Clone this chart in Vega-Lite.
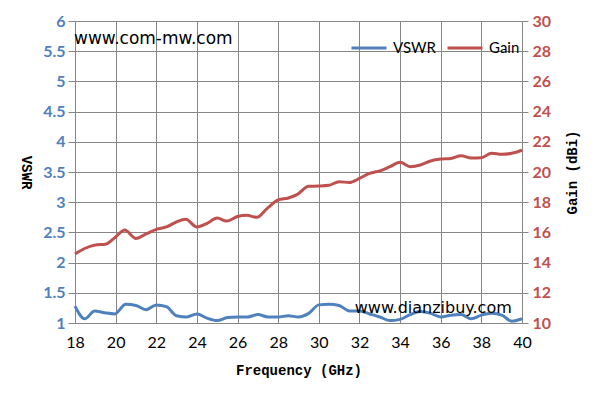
{
  "$schema": "https://vega.github.io/schema/vega-lite/v6.json",
  "description": "VSWR and Gain vs Frequency",
  "width": 447,
  "height": 302,
  "autosize": "none",
  "padding": {"left": 75, "top": 21, "right": 73, "bottom": 81},
  "background": "white",
  "config": {
    "view": {"stroke": null},
    "axis": {"domain": false, "gridColor": "#868686", "gridOpacity": 1, "tickColor": "#868686", "labelOverlap": false, "labelFlush": false, "titleFont": "Liberation Mono", "titleFontSize": 14, "titleFontWeight": "bold", "titleColor": "black"}
  },
  "datasets": {
    "vswr": [
      {"freq": 18, "vswr": 1.28}, {"freq": 18.48, "vswr": 1.07}, {"freq": 18.97, "vswr": 1.2}, {"freq": 19.46, "vswr": 1.17},
      {"freq": 19.95, "vswr": 1.15}, {"freq": 20.5, "vswr": 1.31}, {"freq": 21, "vswr": 1.29}, {"freq": 21.5, "vswr": 1.22},
      {"freq": 22, "vswr": 1.3}, {"freq": 22.5, "vswr": 1.27}, {"freq": 23, "vswr": 1.12}, {"freq": 23.5, "vswr": 1.1},
      {"freq": 24, "vswr": 1.15}, {"freq": 24.5, "vswr": 1.08}, {"freq": 25, "vswr": 1.04}, {"freq": 25.5, "vswr": 1.09},
      {"freq": 26, "vswr": 1.1}, {"freq": 26.5, "vswr": 1.1}, {"freq": 27, "vswr": 1.14}, {"freq": 27.5, "vswr": 1.1},
      {"freq": 28, "vswr": 1.1}, {"freq": 28.5, "vswr": 1.12}, {"freq": 29, "vswr": 1.1}, {"freq": 29.5, "vswr": 1.16},
      {"freq": 30, "vswr": 1.3}, {"freq": 30.5, "vswr": 1.31}, {"freq": 31, "vswr": 1.29}, {"freq": 31.5, "vswr": 1.2},
      {"freq": 32, "vswr": 1.2}, {"freq": 32.5, "vswr": 1.15}, {"freq": 33, "vswr": 1.1}, {"freq": 33.5, "vswr": 1.04},
      {"freq": 34, "vswr": 1.06}, {"freq": 34.5, "vswr": 1.14}, {"freq": 35, "vswr": 1.19}, {"freq": 35.5, "vswr": 1.16},
      {"freq": 36, "vswr": 1.1}, {"freq": 36.5, "vswr": 1.13}, {"freq": 37, "vswr": 1.14}, {"freq": 37.5, "vswr": 1.07},
      {"freq": 38, "vswr": 1.13}, {"freq": 38.5, "vswr": 1.16}, {"freq": 39, "vswr": 1.13}, {"freq": 39.5, "vswr": 1.03},
      {"freq": 40, "vswr": 1.07}
    ],
    "gain": [
      {"freq": 18, "gain": 14.57}, {"freq": 18.5, "gain": 14.95}, {"freq": 19, "gain": 15.17}, {"freq": 19.5, "gain": 15.22},
      {"freq": 20, "gain": 15.7}, {"freq": 20.45, "gain": 16.16}, {"freq": 21, "gain": 15.6}, {"freq": 21.5, "gain": 15.9},
      {"freq": 22, "gain": 16.2}, {"freq": 22.5, "gain": 16.36}, {"freq": 23, "gain": 16.7}, {"freq": 23.45, "gain": 16.87},
      {"freq": 24, "gain": 16.36}, {"freq": 24.5, "gain": 16.6}, {"freq": 25, "gain": 16.95}, {"freq": 25.45, "gain": 16.75},
      {"freq": 26, "gain": 17.05}, {"freq": 26.45, "gain": 17.13}, {"freq": 26.95, "gain": 17.0}, {"freq": 27.45, "gain": 17.57},
      {"freq": 28, "gain": 18.15}, {"freq": 28.5, "gain": 18.28}, {"freq": 28.95, "gain": 18.52}, {"freq": 29.5, "gain": 19.05},
      {"freq": 30, "gain": 19.07}, {"freq": 30.5, "gain": 19.12}, {"freq": 31, "gain": 19.36}, {"freq": 31.5, "gain": 19.3},
      {"freq": 32, "gain": 19.58}, {"freq": 32.5, "gain": 19.91}, {"freq": 33, "gain": 20.07}, {"freq": 33.5, "gain": 20.35},
      {"freq": 34, "gain": 20.64}, {"freq": 34.5, "gain": 20.35}, {"freq": 35, "gain": 20.46}, {"freq": 35.5, "gain": 20.73},
      {"freq": 36, "gain": 20.86}, {"freq": 36.5, "gain": 20.9}, {"freq": 37, "gain": 21.08}, {"freq": 37.5, "gain": 20.93},
      {"freq": 38, "gain": 20.95}, {"freq": 38.5, "gain": 21.24}, {"freq": 39, "gain": 21.17}, {"freq": 39.5, "gain": 21.24},
      {"freq": 40, "gain": 21.44}
    ]
  },
  "encoding": {
    "x": {
      "field": "freq",
      "type": "quantitative",
      "scale": {"domain": [18, 40], "nice": false, "zero": false},
      "axis": {
        "values": [18, 20, 22, 24, 26, 28, 30, 32, 34, 36, 38, 40],
        "grid": true,
        "ticks": false,
        "labelFont": "Lato",
        "labelFontSize": 16,
        "labelColor": "black",
        "labelPadding": 11,
        "title": "Frequency (GHz)",
        "titleX": 223.5,
        "titleY": 47,
        "titleAlign": "center",
        "titleBaseline": "middle"
      }
    }
  },
  "layer": [
    {
      "encoding": {
        "y": {
          "field": "vswr",
          "type": "quantitative",
          "scale": {"domain": [1, 6], "nice": false, "zero": false},
          "axis": {
            "orient": "left",
            "values": [1, 1.5, 2, 2.5, 3, 3.5, 4, 4.5, 5, 5.5, 6],
            "format": "~g",
            "grid": true,
            "tickSize": 7,
            "labelFont": "Lato",
            "labelFontSize": 16,
            "labelFontWeight": "bold",
            "labelColor": "#4F81BD",
            "labelPadding": 3,
            "title": "VSWR",
            "titleAngle": 90,
            "titleX": -50,
            "titleY": 151,
            "titleAlign": "center",
            "titleBaseline": "middle"
          }
        }
      },
      "layer": [
        {
          "data": {"name": "vswr"},
          "mark": {"type": "line", "interpolate": "monotone", "strokeWidth": 3},
          "encoding": {
            "color": {
              "datum": "VSWR",
              "type": "nominal",
              "scale": {"domain": ["VSWR", "Gain"], "range": ["#4F81BD", "#C0504D"]},
              "legend": {
                "orient": "none",
                "legendX": 275,
                "legendY": 8,
                "direction": "horizontal",
                "title": null,
                "symbolType": "stroke",
                "symbolSize": 1225,
                "symbolStrokeWidth": 3,
                "labelFont": "Lato",
                "labelFontSize": 15,
                "labelColor": "black",
                "labelOffset": 5,
                "columnPadding": 5,
                "padding": 0
              }
            }
          }
        },
        {
          "data": {"values": [{"freq": 17.95, "vswr": 5.62, "label": "www.com-mw.com"}]},
          "mark": {"type": "text", "font": "DejaVu Sans", "fontSize": 17, "align": "left", "baseline": "alphabetic", "color": "black"},
          "encoding": {"text": {"field": "label"}}
        },
        {
          "data": {"values": [{"freq": 31.77, "vswr": 1.16, "label": "www.dianzibuy.com"}]},
          "mark": {"type": "text", "font": "DejaVu Sans", "fontSize": 16, "align": "left", "baseline": "alphabetic", "color": "black"},
          "encoding": {"text": {"field": "label"}}
        }
      ]
    },
    {
      "data": {"name": "gain"},
      "mark": {"type": "line", "interpolate": "monotone", "strokeWidth": 3},
      "encoding": {
        "y": {
          "field": "gain",
          "type": "quantitative",
          "scale": {"domain": [10, 30], "nice": false, "zero": false},
          "axis": {
            "orient": "right",
            "values": [10, 12, 14, 16, 18, 20, 22, 24, 26, 28, 30],
            "grid": false,
            "tickSize": 6,
            "labelFont": "Lato",
            "labelFontSize": 16,
            "labelFontWeight": "bold",
            "labelColor": "#C0504D",
            "labelPadding": 4,
            "title": "Gain (dBi)",
            "titleAngle": 270,
            "titleX": 50,
            "titleY": 151,
            "titleAlign": "center",
            "titleBaseline": "middle"
          }
        },
        "color": {"datum": "Gain", "type": "nominal"}
      }
    }
  ],
  "resolve": {"scale": {"y": "independent"}}
}
